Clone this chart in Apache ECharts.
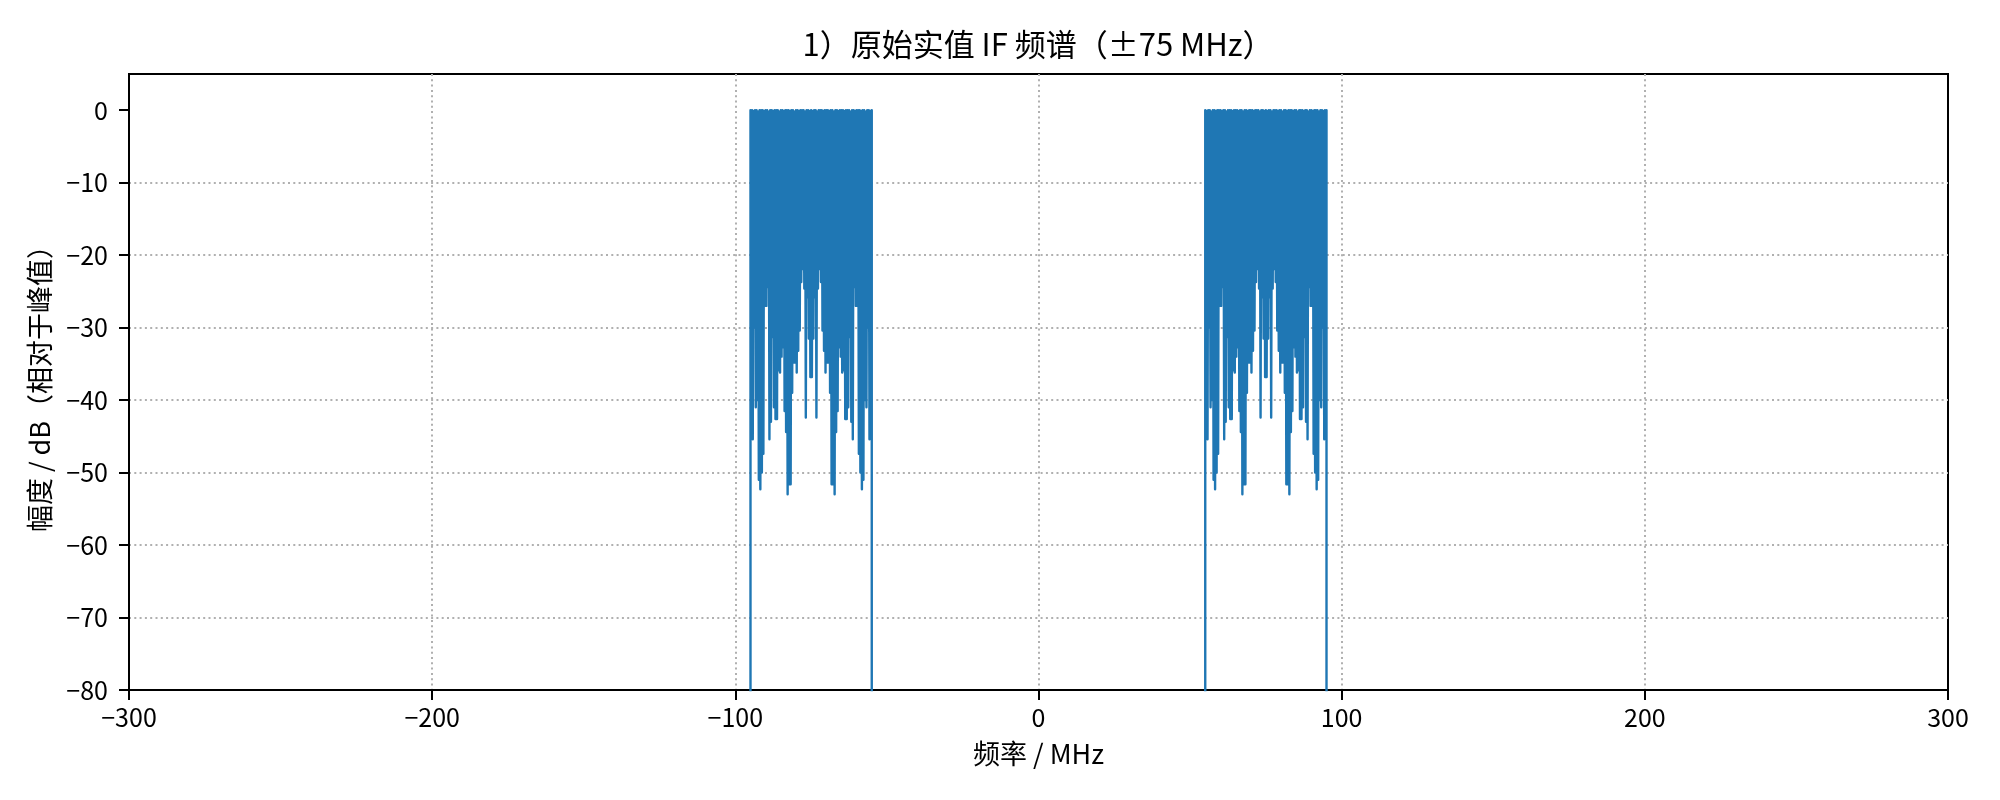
<!DOCTYPE html>
<html>
<head>
<meta charset="utf-8">
<script src="https://cdn.jsdelivr.net/npm/echarts@6/dist/echarts.min.js"></script>
<style>
html,body{margin:0;padding:0;background:#fff;}
#chart{width:2000px;height:800px;}
</style>
</head>
<body>
<div id="chart"></div>
<script>
// ---------------- data ----------------
const titleText = '1）原始实值 IF 频谱（±75 MHz）';
const xAxisName = '频率 / MHz';
const yAxisName = '幅度 / dB（相对于峰值）';

const xTickValues = [-300, -200, -100, 0, 100, 200, 300];
const yTickValues = [-80, -70, -60, -50, -40, -30, -20, -10, 0];

// positive-frequency occupied band (55 … 95 MHz), sampled every 0.25 MHz:
// even samples are the spectral peaks, odd samples the nulls between them
const bandStartMHz = 55;
const bandStepMHz = 0.25;
const bandPeakDb = [
  0, -0.1, 0, 0, -0.2, 0, 0, -0.1, 0, 0,
  0, -0.1, 0, 0, -0.2, 0, 0, 0, -0.1, 0,
  0, 0, -0.1, 0, 0, -0.2, 0, 0, -0.1, 0,
  0, 0, -0.1, 0, 0, 0, -0.2, 0, 0, -0.1,
  0,
  -0.1, 0, 0, -0.2, 0, 0, 0, -0.1, 0, 0,
  -0.2, 0, 0, -0.1, 0, 0, 0, -0.1, 0, 0,
  -0.2, 0, 0, 0, -0.1, 0, 0, -0.2, 0, 0,
  -0.1, 0, 0, 0, -0.2, 0, 0, -0.1, 0, 0
];
const bandNullDb = [
  -26.5, -45.4, -30.0, -41.0, -40.0, -51.0, -52.3, -50.0, -47.4, -27.0,
  -27.0, -24.4, -45.4, -43.0, -31.3, -41.0, -42.6, -42.6, -35.9, -36.2,
  -34.0, -32.7, -41.5, -44.4, -53.0, -51.6, -51.6, -39.0, -34.8, -34.8,
  -36.2, -33.2, -30.4, -23.7, -21.9, -24.6, -42.4, -25.8, -31.5, -36.8,
  -36.8, -31.5, -25.8, -42.4, -24.6, -21.9, -23.7, -30.4, -33.2, -36.2,
  -34.8, -34.8, -39.0, -51.6, -51.6, -53.0, -44.4, -41.5, -32.7, -34.0,
  -36.2, -35.9, -42.6, -42.6, -41.0, -31.3, -43.0, -45.4, -24.4, -27.0,
  -27.0, -47.4, -50.0, -52.3, -51.0, -40.0, -41.0, -30.0, -45.4, -26.5
];
// level outside the occupied bands (below the visible range)
const outOfBandDb = -120;
const spanMHz = [-300, 300];

// ---------------- build series ----------------
const posBand = [];
for (let k = 0; k < bandPeakDb.length; k++) {
  posBand.push([bandStartMHz + 2 * k * bandStepMHz, bandPeakDb[k]]);
  if (k < bandNullDb.length) {
    posBand.push([bandStartMHz + (2 * k + 1) * bandStepMHz, bandNullDb[k]]);
  }
}
// real-valued signal: negative-frequency band is the mirror image
const negBand = posBand.slice().reverse().map(p => [-p[0], p[1]]);
const lo = posBand[0][0];
const hi = posBand[posBand.length - 1][0];
const spectrum = [
  [spanMHz[0], outOfBandDb],
  [-hi, outOfBandDb],
  ...negBand,
  [-lo, outOfBandDb],
  [lo, outOfBandDb],
  ...posBand,
  [hi, outOfBandDb],
  [spanMHz[1], outOfBandDb]
];

const fontFamily = '"Noto Sans CJK SC", "Noto Sans", sans-serif';
const fmt = v => (v < 0 ? '\u2212' + Math.abs(v) : String(v));

const chart = echarts.init(document.getElementById('chart'), null, {renderer: 'canvas'});
chart.setOption({
  animation: false,
  backgroundColor: '#ffffff',
  textStyle: {fontFamily: fontFamily},
  graphic: [{
    type: 'text',
    x: 1038,
    y: 44,
    style: {
      text: titleText,
      fontSize: 31,
      fontFamily: fontFamily,
      fill: '#000',
      align: 'center',
      verticalAlign: 'middle'
    }
  }],
  grid: {
    left: 129, right: 52, top: 74, bottom: 110,
    show: true, borderColor: '#000', borderWidth: 2, backgroundColor: 'transparent'
  },
  xAxis: {
    type: 'value',
    min: spanMHz[0], max: spanMHz[1], interval: 100,
    name: xAxisName,
    nameLocation: 'middle',
    nameGap: 50,
    nameTextStyle: {fontSize: 27, color: '#000', fontFamily: fontFamily},
    axisLine: {show: true, onZero: false, lineStyle: {color: '#000', width: 2}},
    axisTick: {show: true, inside: false, length: 10, customValues: xTickValues, lineStyle: {color: '#000', width: 2}},
    axisLabel: {fontSize: 25, color: '#000', margin: 15, customValues: xTickValues, formatter: fmt, fontFamily: fontFamily},
    splitLine: {show: true, showMinLine: false, showMaxLine: false, lineStyle: {color: '#b0b0b0', width: 2, type: [2, 3.3]}}
  },
  yAxis: {
    type: 'value',
    min: -80, max: 5, interval: 10,
    name: yAxisName,
    nameLocation: 'middle',
    nameGap: 76,
    nameTextStyle: {fontSize: 27, color: '#000', fontFamily: fontFamily},
    axisLine: {show: true, onZero: false, lineStyle: {color: '#000', width: 2}},
    axisTick: {show: true, inside: false, length: 10, customValues: yTickValues, lineStyle: {color: '#000', width: 2}},
    axisLabel: {fontSize: 25, color: '#000', margin: 21, customValues: yTickValues, formatter: fmt, fontFamily: fontFamily},
    splitLine: {show: true, showMinLine: false, showMaxLine: false, lineStyle: {color: '#b0b0b0', width: 2, type: [2, 3.3]}}
  },
  series: [{
    type: 'line',
    data: spectrum,
    showSymbol: false,
    symbol: 'none',
    clip: true,
    sampling: null,
    lineStyle: {color: '#1f77b4', width: 2.4, join: 'round'},
    emphasis: {disabled: true}
  }]
});
</script>
</body>
</html>
